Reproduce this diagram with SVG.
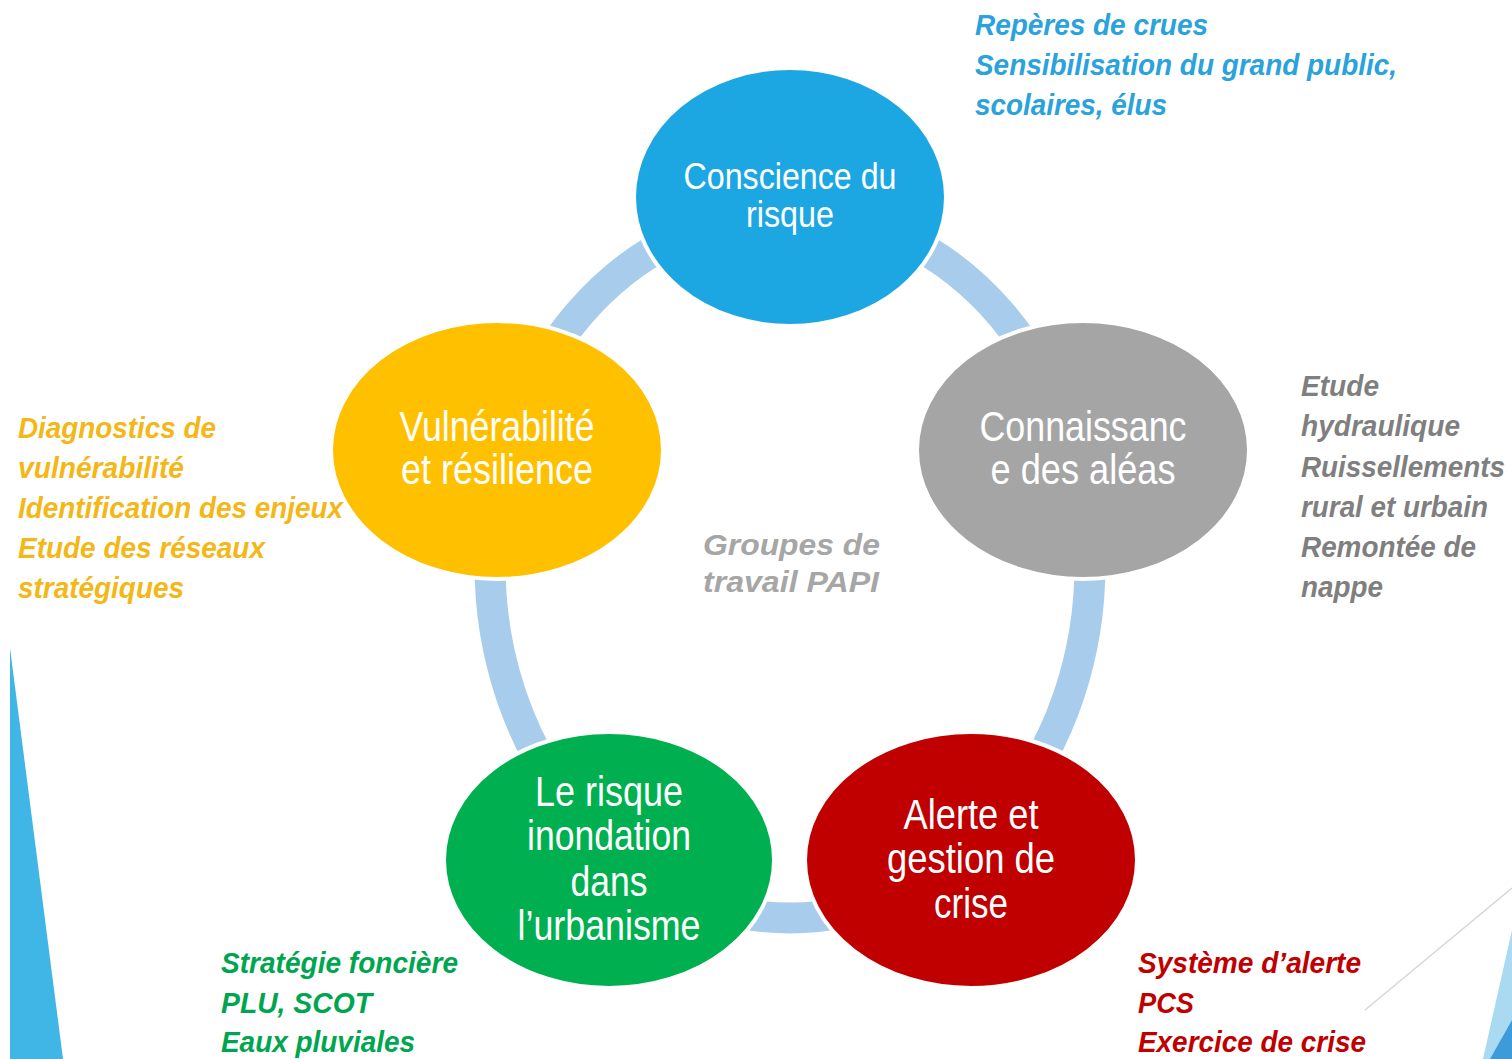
<svg xmlns="http://www.w3.org/2000/svg" width="1512" height="1059" viewBox="0 0 1512 1059">
<style>
.node{stroke:#ffffff;stroke-width:4}
.nt{font-family:"Liberation Sans",Arial,sans-serif;font-size:42px;fill:#ffffff;text-anchor:middle}
.nts{font-size:37px}
.ann{font-family:"Liberation Sans",Arial,sans-serif;font-size:29px;font-weight:bold;font-style:italic}
</style>
<rect width="1512" height="1059" fill="#ffffff"/>
<g id="decor">
<polygon points="10,648 63,1059 10,1059" fill="#40B6E6"/>
<line x1="1365" y1="1010" x2="1512" y2="888" stroke="#D6D6D6" stroke-width="1.5"/>
<polygon points="1512,930 1483,1059 1512,1059" fill="#A9DAF2"/>
<polygon points="1512,1020 1490,1059 1512,1059" fill="#3E9BD9"/>
</g>
<g id="connectors">
<ellipse cx="790" cy="565" rx="300" ry="353" fill="none" stroke="#A8CDEC" stroke-width="31"/>
</g>
<g id="node-conscience">
<ellipse class="node" cx="790" cy="197" rx="156" ry="129" fill="#1DA7E2"/>
<text class="nt nts" x="790" y="189" textLength="213" lengthAdjust="spacingAndGlyphs">Conscience du</text>
<text class="nt nts" x="790" y="227" textLength="88" lengthAdjust="spacingAndGlyphs">risque</text>
</g>
<g id="node-connaissance">
<ellipse class="node" cx="1083" cy="450" rx="166" ry="129" fill="#A5A5A5"/>
<text class="nt" x="1083" y="441" textLength="207" lengthAdjust="spacingAndGlyphs">Connaissanc</text>
<text class="nt" x="1083" y="484" textLength="185" lengthAdjust="spacingAndGlyphs">e des aléas</text>
</g>
<g id="node-vulnerabilite">
<ellipse class="node" cx="497" cy="450" rx="166" ry="129" fill="#FFC000"/>
<text class="nt" x="497" y="441" textLength="195" lengthAdjust="spacingAndGlyphs">Vulnérabilité</text>
<text class="nt" x="497" y="484" textLength="192" lengthAdjust="spacingAndGlyphs">et résilience</text>
</g>
<g id="node-urbanisme">
<ellipse class="node" cx="609" cy="860" rx="165" ry="128" fill="#00B050"/>
<text class="nt" x="609" y="806" textLength="148" lengthAdjust="spacingAndGlyphs">Le risque</text>
<text class="nt" x="609" y="850" textLength="164" lengthAdjust="spacingAndGlyphs">inondation</text>
<text class="nt" x="609" y="896" textLength="77" lengthAdjust="spacingAndGlyphs">dans</text>
<text class="nt" x="609" y="940" textLength="183" lengthAdjust="spacingAndGlyphs">l’urbanisme</text>
</g>
<g id="node-alerte">
<ellipse class="node" cx="971" cy="860" rx="166" ry="128" fill="#C00000"/>
<text class="nt" x="971" y="829" textLength="135" lengthAdjust="spacingAndGlyphs">Alerte et</text>
<text class="nt" x="971" y="873" textLength="168" lengthAdjust="spacingAndGlyphs">gestion de</text>
<text class="nt" x="971" y="918" textLength="74" lengthAdjust="spacingAndGlyphs">crise</text>
</g>
<g id="label-center">
<text class="ann" fill="#A6A6A6" x="703" y="555" textLength="177" lengthAdjust="spacingAndGlyphs">Groupes de</text>
<text class="ann" fill="#A6A6A6" x="703" y="592" textLength="176" lengthAdjust="spacingAndGlyphs">travail PAPI</text>
</g>
<g id="label-conscience">
<text class="ann" fill="#2AA2DC" x="975" y="35" textLength="233" lengthAdjust="spacingAndGlyphs">Repères de crues</text>
<text class="ann" fill="#2AA2DC" x="975" y="75" textLength="422" lengthAdjust="spacingAndGlyphs">Sensibilisation du grand public,</text>
<text class="ann" fill="#2AA2DC" x="975" y="115" textLength="192" lengthAdjust="spacingAndGlyphs">scolaires, élus</text>
</g>
<g id="label-connaissance">
<text class="ann" fill="#7F7F7F" x="1301" y="396" textLength="78" lengthAdjust="spacingAndGlyphs">Etude</text>
<text class="ann" fill="#7F7F7F" x="1301" y="436" textLength="159" lengthAdjust="spacingAndGlyphs">hydraulique</text>
<text class="ann" fill="#7F7F7F" x="1301" y="477" textLength="204" lengthAdjust="spacingAndGlyphs">Ruissellements</text>
<text class="ann" fill="#7F7F7F" x="1301" y="517" textLength="187" lengthAdjust="spacingAndGlyphs">rural et urbain</text>
<text class="ann" fill="#7F7F7F" x="1301" y="557" textLength="175" lengthAdjust="spacingAndGlyphs">Remontée de</text>
<text class="ann" fill="#7F7F7F" x="1301" y="597" textLength="82" lengthAdjust="spacingAndGlyphs">nappe</text>
</g>
<g id="label-vulnerabilite">
<text class="ann" fill="#F3B718" x="18" y="438" textLength="198" lengthAdjust="spacingAndGlyphs">Diagnostics de</text>
<text class="ann" fill="#F3B718" x="18" y="478" textLength="166" lengthAdjust="spacingAndGlyphs">vulnérabilité</text>
<text class="ann" fill="#F3B718" x="18" y="518" textLength="325" lengthAdjust="spacingAndGlyphs">Identification des enjeux</text>
<text class="ann" fill="#F3B718" x="18" y="558" textLength="247" lengthAdjust="spacingAndGlyphs">Etude des réseaux</text>
<text class="ann" fill="#F3B718" x="18" y="598" textLength="166" lengthAdjust="spacingAndGlyphs">stratégiques</text>
</g>
<g id="label-urbanisme">
<text class="ann" fill="#00A550" x="221" y="973" textLength="237" lengthAdjust="spacingAndGlyphs">Stratégie foncière</text>
<text class="ann" fill="#00A550" x="221" y="1013" textLength="151" lengthAdjust="spacingAndGlyphs">PLU, SCOT</text>
<text class="ann" fill="#00A550" x="221" y="1052" textLength="194" lengthAdjust="spacingAndGlyphs">Eaux pluviales</text>
</g>
<g id="label-alerte">
<text class="ann" fill="#C00000" x="1138" y="973" textLength="223" lengthAdjust="spacingAndGlyphs">Système d’alerte</text>
<text class="ann" fill="#C00000" x="1138" y="1013" textLength="56" lengthAdjust="spacingAndGlyphs">PCS</text>
<text class="ann" fill="#C00000" x="1138" y="1052" textLength="228" lengthAdjust="spacingAndGlyphs">Exercice de crise</text>
</g>
</svg>
